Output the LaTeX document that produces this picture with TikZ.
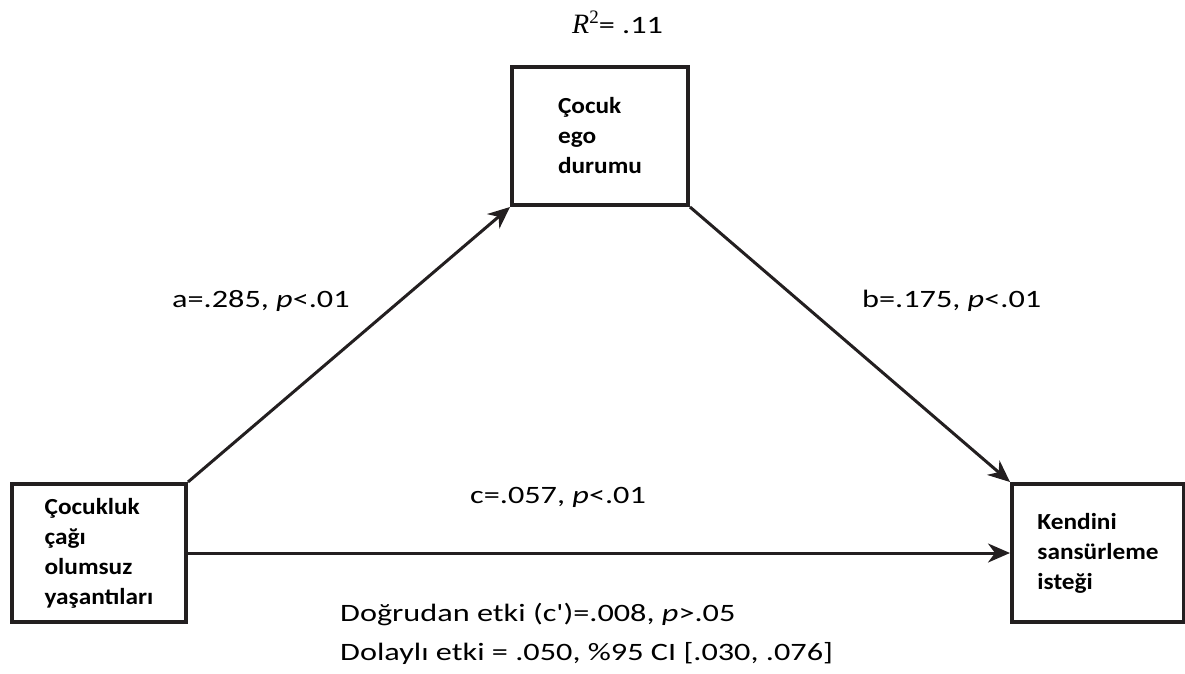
\documentclass[tikz,border=0pt]{standalone}
\usepackage{fontspec}
\setmainfont{Carlito}
\newfontfamily\labfont[FakeStretch=1.29,Ligatures=TeXOff]{Carlito}
\newfontfamily\boxfont[FakeStretch=1.1]{Carlito}
\newfontfamily\rfont{Liberation Serif}
\usetikzlibrary{arrows.meta}
\definecolor{ink}{HTML}{231F20}
\begin{document}
\begin{tikzpicture}[x=1pt,y=-1pt,
  box/.style={draw=ink, line width=4pt, rectangle, inner sep=0pt, align=left,
    text=black, font=\boxfont\bfseries\fontsize{23}{30}\selectfont},
  conn/.style={draw=ink, line width=3pt, -{Stealth[length=22pt,width=19pt,inset=7pt]}},
  lab/.style={font=\labfont\fontsize{25}{29}\selectfont, anchor=base west, inner sep=0pt, text=black}]
\useasboundingbox (0,0) rectangle (1185,673);
% boxes
\node[box, minimum width=176pt, minimum height=138pt] (T) at (600,136) {Çocuk\\ego\\durumu};
\node[box, minimum width=174pt, minimum height=138pt] (L) at (99,553) {Çocukluk\\çağı\\olumsuz\\yaşantıları};
\node[box, minimum width=172pt, minimum height=138pt] (R) at (1098,553) {Kendini\\sansürleme\\isteği};
% connectors
\draw[conn] (L.north east) -- (T.south west);
\draw[conn] (T.south east) -- (R.north west);
\draw[conn] (L.east) -- (R.west);
% labels
\node[lab] (r2) at (572,33) {{\rfont\itshape\fontsize{28}{30}\selectfont R}\raisebox{10pt}{\rfont\fontsize{19}{19}\selectfont 2}= .11};
\node[lab] (la) at (172,307) {a=.285, \textit{p}<.01};
\node[lab] (lb) at (862,307) {b=.175, \textit{p}<.01};
\node[lab] (lc) at (470,503) {c=.057, \textit{p}<.01};
\node[lab] (d1) at (340,621) {Doğrudan etki (c')=.008, \textit{p}>.05};
\node[lab] (d2) at (340,660) {Dolaylı etki = .050, \%95 CI [.030, .076]};
\end{tikzpicture}
\end{document}
